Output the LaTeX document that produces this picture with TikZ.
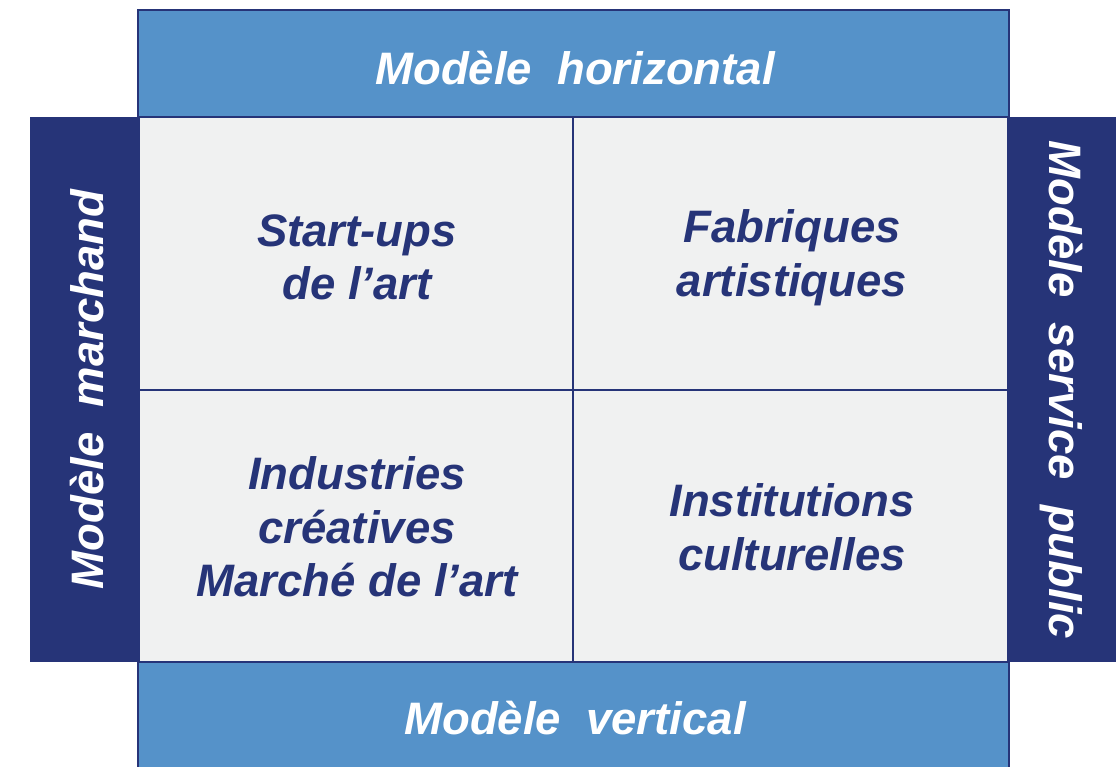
\documentclass[tikz,border=0pt]{standalone}
\usepackage{fontspec}
\setmainfont{Liberation Sans}
\definecolor{navy}{HTML}{263478}
\definecolor{skyband}{HTML}{5592C9}
\definecolor{cellgray}{HTML}{F0F1F1}
\tikzset{
  boxtext/.style={font=\fontsize{45.5}{53.5}\selectfont\bfseries\itshape, align=center, inner sep=0pt},
  celltext/.style={boxtext, text=navy},
  bandtext/.style={boxtext, text=white},
  cellbox/.style={draw=navy, line width=2pt, fill=cellgray,
    minimum width=435pt, minimum height=273pt},
  bandbox/.style={draw=navy, line width=2pt, fill=skyband,
    minimum width=871pt, minimum height=107pt},
  sidebox/.style={fill=navy, minimum width=109pt, minimum height=545pt}
}
\begin{document}
\begin{tikzpicture}[x=1pt,y=-1pt]
  \useasboundingbox (0,0) rectangle (1116,767);
  % four quadrants
  \node[cellbox] (startups) at (356,253.5) {};
  \node[cellbox] (fabriques) at (790.5,253.5) {};
  \node[cellbox] (industries) at (356,526) {};
  \node[cellbox] (institutions) at (790.5,526) {};
  \node[celltext] (startups text) at (357,257.5) {Start-ups\\de l’art};
  \node[celltext] (fabriques text) at (792,257.5) {Fabriques\\artistiques};
  \node[celltext] (industries text) at (357,527) {Industries\\créatives\\Marché de l’art};
  \node[celltext] (institutions text) at (792,527) {Institutions\\culturelles};
  % side models
  \node[sidebox] (marchand) at (84.5,389.5) {};
  \node[sidebox] (public) at (1062,389.5) {};
  \node[bandtext, rotate=90] (marchand text) at (87,389.5) {Modèle\ \ marchand};
  \node[bandtext, rotate=-90] (public text) at (1061,390) {Modèle\ \ service\ \ public};
  % top and bottom models
  \node[bandbox] (horizontal) at (573.5,63.5) {};
  \node[bandbox, minimum height=110pt] (vertical) at (573.5,717) {};
  \node[bandtext] (horizontal text) at (575,68) {Modèle\ \ horizontal};
  \node[bandtext] (vertical text) at (575,718) {Modèle\ \ vertical};
\end{tikzpicture}
\end{document}
